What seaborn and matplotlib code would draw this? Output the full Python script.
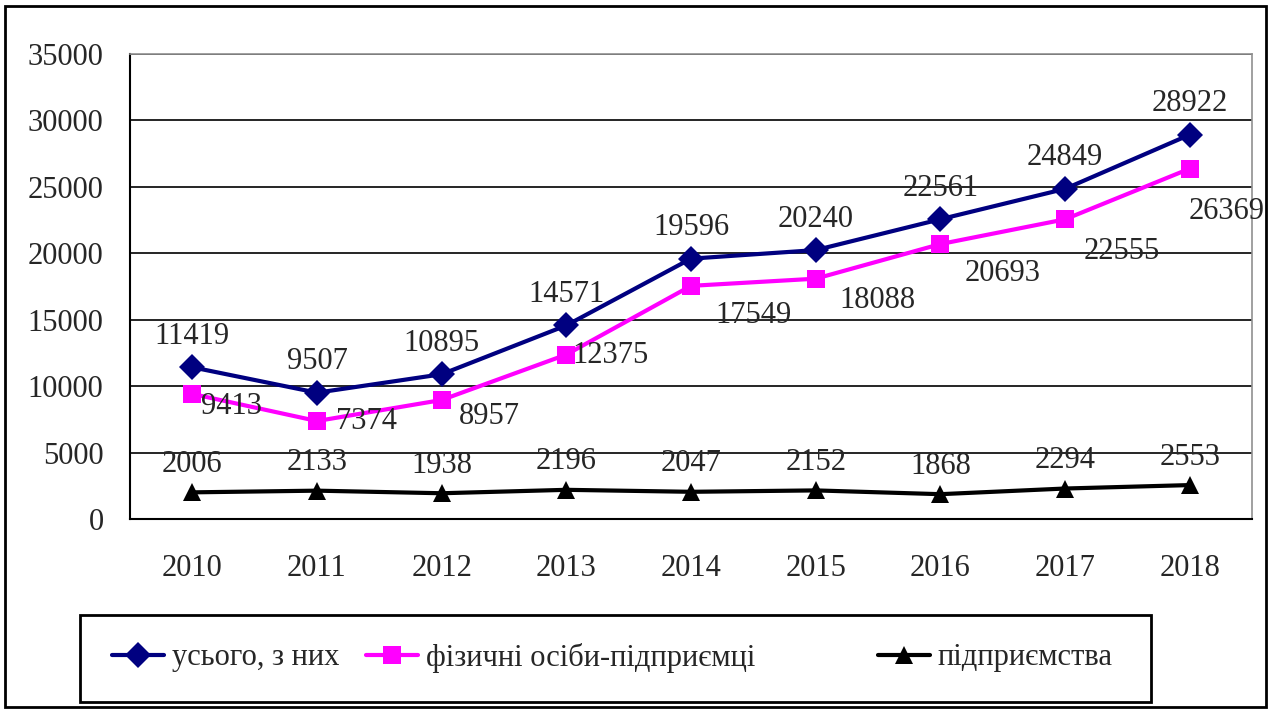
import matplotlib
matplotlib.use("Agg")
import matplotlib.pyplot as plt
from matplotlib.patches import Rectangle
from matplotlib.ticker import FixedLocator
import seaborn as sns
import pandas as pd

years = [2010, 2011, 2012, 2013, 2014, 2015, 2016, 2017, 2018]
total = [11419, 9507, 10895, 14571, 19596, 20240, 22561, 24849, 28922]
individuals = [9413, 7374, 8957, 12375, 17549, 18088, 20693, 22555, 26369]
enterprises = [2006, 2133, 1938, 2196, 2047, 2152, 1868, 2294, 2553]

series_names = ["усього, з них", "фізичні осіби-підприємці", "підприємства"]
series_values = [total, individuals, enterprises]

sns.set_style("white")
plt.rcParams["font.family"] = ["Liberation Serif", "DejaVu Serif"]
plt.rcParams["font.size"] = 22

rows = []
for name, vals in zip(series_names, series_values):
    for y, v in zip(years, vals):
        rows.append({"year": y, "value": v, "series": name})
df = pd.DataFrame(rows)

palette = {series_names[0]: "#000080", series_names[1]: "#FF00FF", series_names[2]: "#000000"}
markers = {series_names[0]: "D", series_names[1]: "s", series_names[2]: "^"}

fig = plt.figure(figsize=(12.72, 7.09), dpi=100)
ax = fig.add_axes([130 / 1272, 1 - 519 / 709, 1122 / 1272, 465 / 709])

sns.lineplot(data=df, x="year", y="value", hue="series", style="series",
             palette=palette, markers=markers, dashes=False, linewidth=3,
             markersize=13, markeredgewidth=0, ax=ax, legend="brief",
             zorder=3)

ax.set_xlim(2009.5, 2018.5)
ax.set_ylim(0, 35000)
ax.set_yticks(range(0, 35001, 5000))
ax.set_xticks(years)
ax.set_xticklabels([str(y) for y in years])
ax.xaxis.set_minor_locator(FixedLocator([2009.5 + i for i in range(10)]))
ax.tick_params(axis="x", which="major", length=0, pad=25, labelsize=22)
ax.tick_params(axis="x", which="minor", length=8, width=1.2, direction="out", color="black")
ax.tick_params(axis="y", length=8, width=1.2, direction="out", pad=11, labelsize=22, color="black")
ax.set_xlabel("")
ax.set_ylabel("")
ax.yaxis.grid(True, color="black", linewidth=1.2)
ax.set_axisbelow(True)

for side in ["left", "bottom"]:
    ax.spines[side].set_color("black")
    ax.spines[side].set_linewidth(1.5)
for side in ["top", "right"]:
    ax.spines[side].set_color("#909090")
    ax.spines[side].set_linewidth(1.2)

# data labels
for x, v in zip(years, total):
    ax.annotate(str(v), (x, v), xytext=(0, 31), textcoords="offset pixels",
                ha="center", va="center", fontsize=22)
pink_offsets = [(39, -13), (50, 0), (48, -17), (44, -1), (62, -30),
                (62, -22), (62, -29), (57, -32), (37, -43)]
for (x, v), (dx, dy) in zip(zip(years, individuals), pink_offsets):
    ax.annotate(str(v), (x, v), xytext=(dx, dy), textcoords="offset pixels",
                ha="center", va="center", fontsize=22)
for x, v in zip(years, enterprises):
    ax.annotate(str(v), (x, v), xytext=(0, 28), textcoords="offset pixels",
                ha="center", va="center", fontsize=22)

# legend: one entry per box position, like the original
handles, labels = ax.get_legend_handles_labels()
ax.get_legend().remove()
legend_x = [112, 366, 878]
for h, lab, lx in zip(handles, labels, legend_x):
    fig.legend([h], [lab], loc="center left",
               bbox_to_anchor=(lx / 1272, 1 - 658 / 709), frameon=False,
               fontsize=22, handlelength=1.7, handletextpad=0.25,
               borderpad=0, borderaxespad=0)
fig.patches.append(Rectangle((80 / 1272, 1 - 702 / 709), 1071 / 1272, 87 / 709,
                             transform=fig.transFigure, fill=False,
                             edgecolor="black", linewidth=2))
fig.patches.append(Rectangle((5 / 1272, 1 - 707 / 709), 1261 / 1272, 701 / 709,
                             transform=fig.transFigure, fill=False,
                             edgecolor="black", linewidth=2))

fig.savefig("out.png", dpi=100)
